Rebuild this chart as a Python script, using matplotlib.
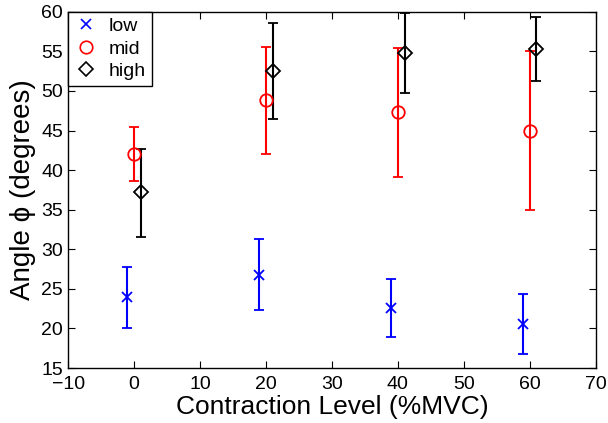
import matplotlib
matplotlib.use("Agg")
import matplotlib.pyplot as plt
from matplotlib.lines import Line2D

plt.rcParams['font.family'] = ['Liberation Sans', 'DejaVu Sans']

# nivel de contraccion (%MVC)
niveles = [0, 20, 40, 60]

# low
x_low = [-1, 19, 39, 59]
low = [24.0, 26.8, 22.6, 20.6]
low_min = [20.1, 22.3, 18.9, 16.8]
low_max = [27.8, 31.3, 26.3, 24.3]

# mid
x_mid = [0, 20, 40, 60]
mid = [42.1, 48.8, 47.3, 45.0]
mid_min = [38.6, 42.0, 39.1, 35.0]
mid_max = [45.5, 55.6, 55.4, 55.1]

# high
x_high = [1, 21, 41, 61]
high = [37.2, 52.5, 54.8, 55.3]
high_min = [31.6, 46.4, 49.7, 51.3]
high_max = [42.7, 58.6, 59.9, 59.3]

xticks = list(range(-10, 71, 10))
yticks = list(range(15, 61, 5))


def barras(v, lo, hi):
    return [[a - b for a, b in zip(v, lo)], [c - a for a, c in zip(v, hi)]]


fig = plt.figure(figsize=(6.08, 4.23), dpi=100)
ax = fig.add_axes([0.112, 0.130, 0.868, 0.842])

estilos = [
    ('low', x_low, low, low_min, low_max, 'x', 'blue', 7),
    ('mid', x_mid, mid, mid_min, mid_max, 'o', 'red', 9),
    ('high', x_high, high, high_min, high_max, 'D', 'black', 7),
]
handles = []
for nombre, xs, v, lo, hi, m, c, ms in estilos:
    ax.errorbar(xs, v, yerr=barras(v, lo, hi), fmt=m, color=c, mfc='none',
                ms=ms, mew=1.3, elinewidth=1.5, capsize=3.5, capthick=1.5)
    handles.append(Line2D([], [], ls='none', marker=m, color=c, mfc='none',
                          ms=ms, mew=1.2, label=nombre))

ax.set_xlim(-10, 70)
ax.set_ylim(15, 60)
ax.set_xticks(xticks)
ax.set_yticks(yticks)
ax.set_xticklabels(['\u2212' + str(-t) if t < 0 else str(t) for t in xticks])
ax.tick_params(direction='in', labelsize=14, top=True, right=True, length=5, width=0.8)
ax.tick_params(axis='x', pad=6)
for s in ax.spines.values():
    s.set_linewidth(1.0)

ax.set_xlabel('Contraction Level (%MVC)', fontsize=19, labelpad=1)
ax.set_ylabel('Angle \u03d5 (degrees)', fontsize=20, labelpad=4)

leg = ax.legend(handles=handles, loc='upper left', fontsize=14, handlelength=1.2,
                handletextpad=0.6, borderaxespad=0.0, borderpad=0.3, labelspacing=0.25,
                fancybox=False, framealpha=1, edgecolor='black')
leg.get_frame().set_linewidth(1.0)

fig.savefig('out.png', dpi=100)
